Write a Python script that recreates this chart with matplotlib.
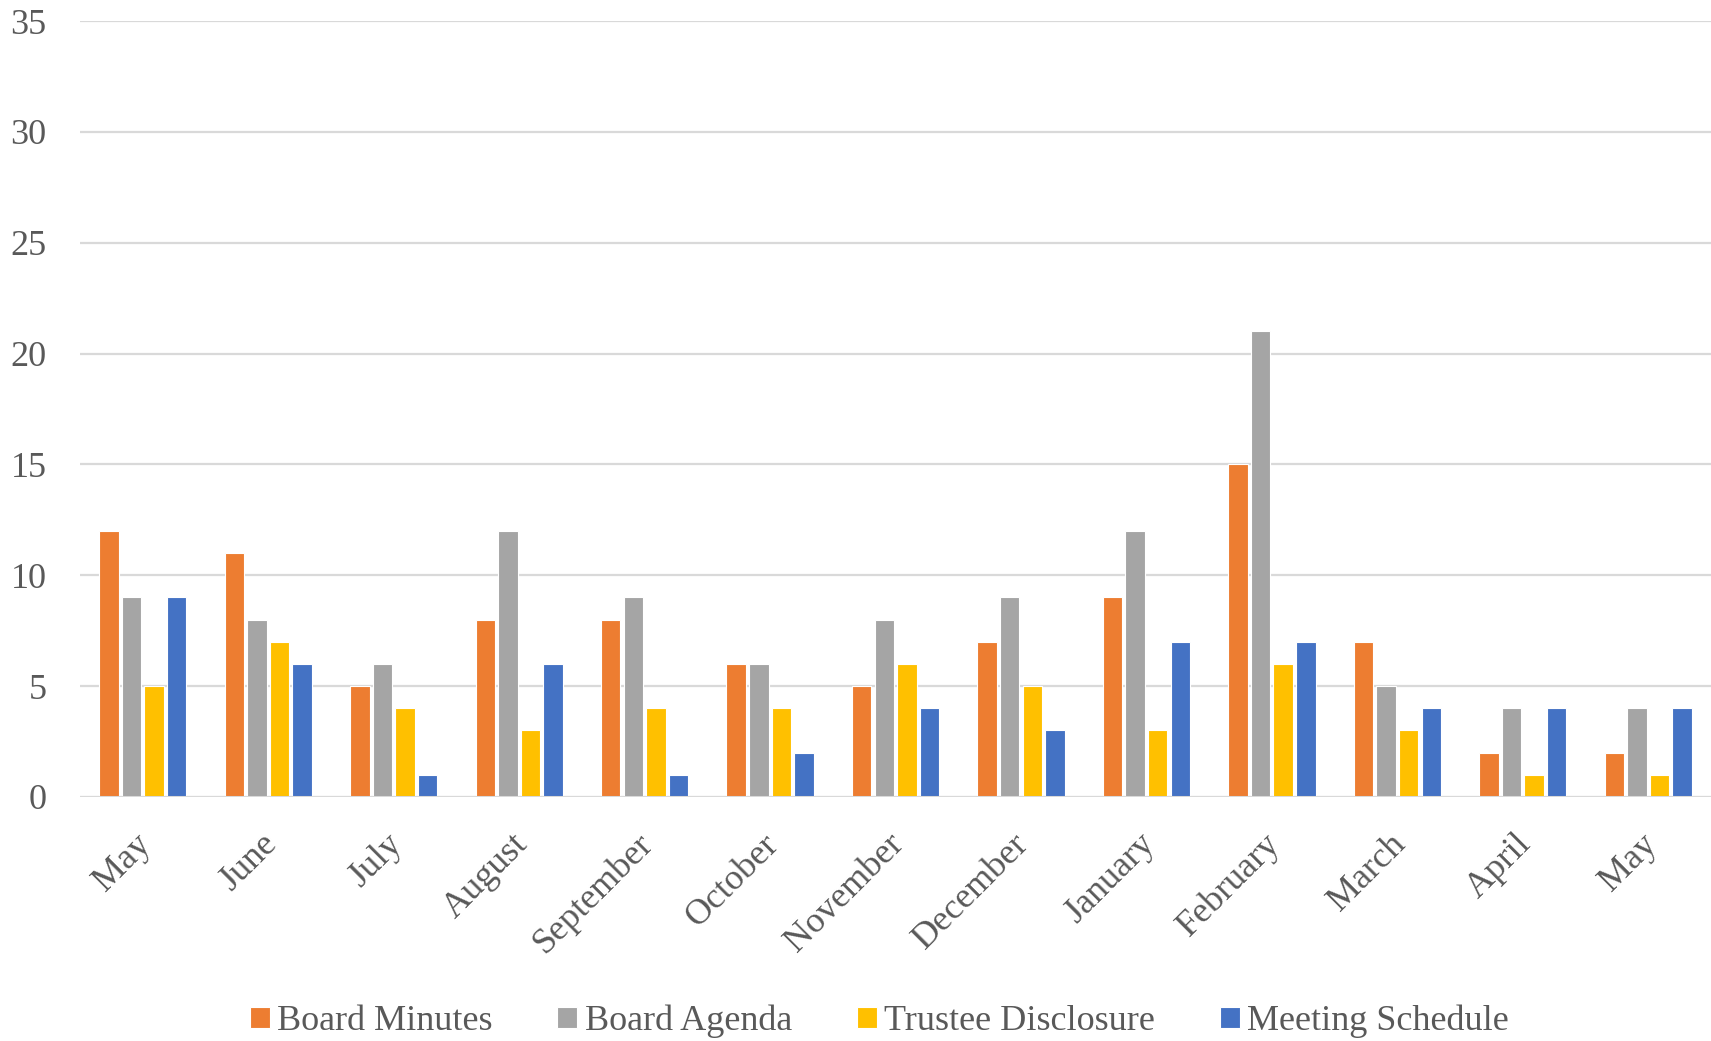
import matplotlib.pyplot as plt
import matplotlib.transforms as mtransforms
import numpy as np

months = ["May", "June", "July", "August", "September", "October", "November",
          "December", "January", "February", "March", "April", "May"]
board_minutes = [12, 11, 5, 8, 8, 6, 5, 7, 9, 15, 7, 2, 2]
board_agenda = [9, 8, 6, 12, 9, 6, 8, 9, 12, 21, 5, 4, 4]
trustee_disclosure = [5, 7, 4, 3, 4, 4, 6, 5, 3, 6, 3, 1, 1]
meeting_schedule = [9, 6, 1, 6, 1, 2, 4, 3, 7, 7, 4, 4, 4]

series = [
    ("Board Minutes", board_minutes, "#ED7D31"),
    ("Board Agenda", board_agenda, "#A5A5A5"),
    ("Trustee Disclosure", trustee_disclosure, "#FFC000"),
    ("Meeting Schedule", meeting_schedule, "#4472C4"),
]

plt.rcParams["font.family"] = ["Liberation Serif", "DejaVu Serif"]
text_color = "#595959"

fig = plt.figure(figsize=(17.11, 10.41), dpi=100)
ax = fig.add_axes([0.0468, 0.2344, 0.9532, 0.7454])

x = np.arange(len(months))
step = 0.18
width = 0.155
for i, (name, vals, color) in enumerate(series):
    ax.bar(x + (i - 1.5) * step, vals, width, color=color, label=name,
           edgecolor="white", linewidth=0.8, zorder=3)

ax.set_xlim(-0.5, len(months) - 0.5)
ax.set_ylim(0, 35)
ax.set_yticks(range(0, 36, 5))
ax.grid(axis="y", color="#D9D9D9", linewidth=1.6, zorder=0)
ax.axhline(0, color="#D9D9D9", linewidth=2.2, zorder=4)
for s in ax.spines.values():
    s.set_visible(False)

ax.tick_params(axis="y", length=0, pad=24, labelsize=26, labelcolor=text_color)
ax.tick_params(axis="x", length=0, pad=22, labelsize=26, labelcolor=text_color)
ax.set_xticks(x)
ax.set_xticklabels(months, rotation=45, ha="right", va="top", rotation_mode="anchor")
shift = mtransforms.ScaledTranslation(-6 / 72, 0, fig.dpi_scale_trans)
for lab in ax.get_xticklabels():
    lab.set_transform(lab.get_transform() + shift)

leg = ax.legend(loc="upper center", bbox_to_anchor=(0.49, -0.226), ncol=4,
                frameon=False, fontsize=26, handlelength=0.55, handleheight=0.55,
                handletextpad=0.2, columnspacing=1.8)
for t in leg.get_texts():
    t.set_color(text_color)

plt.savefig("out.png", dpi=100)
plt.close()
